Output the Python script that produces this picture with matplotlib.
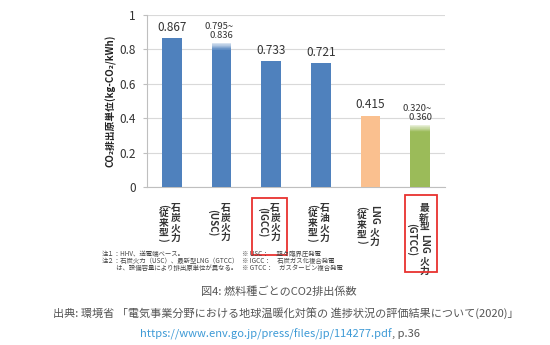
import numpy as np
import matplotlib
matplotlib.use("Agg")
import matplotlib.pyplot as plt
from matplotlib.patches import Rectangle
from matplotlib.textpath import TextPath
from matplotlib.font_manager import FontProperties

plt.rcParams['font.family'] = ['Noto Sans CJK JP', 'DejaVu Sans']

# data
cat_main = ["石炭火力", "石炭火力", "石炭火力", "石油火力", "LNG 火力", "最新型LNG 火力"]
cat_sub = ["(従来型)", "(USC)", "(IGCC)", "(従来型)", "(従来型)", "(GTCC)"]
values_low = [0.867, 0.795, 0.733, 0.721, 0.415, 0.320]
values_high = [0.867, 0.836, 0.733, 0.721, 0.415, 0.360]
value_labels = ["0.867", "0.795~\n0.836", "0.733", "0.721", "0.415", "0.320~\n0.360"]
bar_colors = ["#4f81bd", "#4f81bd", "#4f81bd", "#4f81bd", "#fac08f", "#9bbb59"]
yticks = [0, 0.2, 0.4, 0.6, 0.8, 1.0]
ytick_labels = ["0", "0.2", "0.4", "0.6", "0.8", "1"]

notes_left = ["注１：HHV、送電端ベース。",
              "注２：石炭火力（USC）、最新型LNG（GTCC）",
              "　　 は、設備容量により排出原単位が異なる。"]
notes_right = ["※ USC：　 超々臨界圧発電",
               "※ IGCC：　石炭ガス化複合発電",
               "※ GTCC：　ガスタービン複合発電"]

W, H, DPI = 550, 345, 100
fig = plt.figure(figsize=(W / DPI, H / DPI), dpi=DPI)
ax = fig.add_axes([147 / W, 1 - 187 / H, (445 - 147) / W, (187 - 15) / H])

x = np.arange(len(values_low))
bw = 0.4
ax.bar(x, values_low, width=bw, color=bar_colors, zorder=3)

# faded top for the ranged bars
for i in range(len(x)):
    lo, hi = values_low[i], values_high[i]
    if hi > lo:
        base = np.array(matplotlib.colors.to_rgb(bar_colors[i]))
        edges = np.linspace(lo, hi, 13)
        for k in range(12):
            f = 0.8 * (k + 0.5) / 12
            c = base * (1 - f) + f
            ax.bar(x[i], edges[k + 1] - edges[k], bottom=edges[k], width=bw,
                   color=c, zorder=3)

# value labels
for i in range(len(x)):
    if "\n" in value_labels[i]:
        ax.annotate(value_labels[i], (x[i], values_high[i]), xytext=(-2, 2),
                    textcoords="offset points", ha="center", va="bottom",
                    fontsize=6.8, color="#333333", multialignment="right",
                    linespacing=1.0)
    else:
        ax.annotate(value_labels[i], (x[i], values_high[i]), xytext=(0, 3),
                    textcoords="offset points", ha="center", va="bottom",
                    fontsize=8.5, color="#333333")

ax.set_xlim(-0.5, len(x) - 0.5)
ax.set_ylim(0, 1)
ax.set_yticks(yticks)
ax.set_yticklabels(ytick_labels, fontsize=8.5, color="#333333")
ax.set_xticks([])
ax.tick_params(axis="y", length=3, color="#bfbfbf", pad=5)
ax.grid(axis="y", color="#d9d9d9", linewidth=0.8, zorder=0)
for s in ["top", "right"]:
    ax.spines[s].set_visible(False)
ax.spines["left"].set_color("#bfbfbf")
ax.spines["bottom"].set_color("#bfbfbf")
ax.set_ylabel("CO₂排出原単位(kg-CO₂/kWh)", fontsize=7, fontweight="bold",
              color="#222222", labelpad=2)

# vertical (tategaki) category labels
fs = 7
fp = FontProperties(family="Noto Sans CJK JP", weight="bold", size=fs)


def tokens(s):
    out, buf = [], ""
    for ch in s:
        if ord(ch) < 128:
            buf += ch
        else:
            if buf:
                out.append((buf, True))
                buf = ""
            out.append((ch, False))
    if buf:
        out.append((buf, True))
    return out


def tok_len(t, rot):
    if not rot:
        return fs * 1.0
    w = TextPath((0, 0), t.strip(), size=fs, prop=fp).get_extents().width
    return w + 0.3 * fs * (1 + t.count(" "))


def col_len(s):
    return sum(tok_len(t, r) for t, r in tokens(s))


top = (203 - 187) * 0.72
for i in range(len(x)):
    cols = [(cat_main[i], 4 * 0.72), (cat_sub[i], -8.5 * 0.72)]
    longest = max(col_len(c) for c, _ in cols)
    mid = top + longest / 2
    for s, dx in cols:
        y = mid - col_len(s) / 2
        for t, r in tokens(s):
            L = tok_len(t, r)
            ax.annotate(t.strip(), (x[i], 0), xycoords=("data", "axes fraction"),
                        xytext=(dx, -(y + L / 2)), textcoords="offset points",
                        ha="center", va="center", rotation=-90 if r else 0,
                        fontsize=fs, fontweight="bold", color="#333333",
                        annotation_clip=False)
            y += L

# red boxes around highlighted labels
for (x0, y0, x1, y1) in [(252, 198, 287, 255), (405, 195, 437, 272)]:
    fig.patches.append(Rectangle((x0 / W, 1 - y1 / H), (x1 - x0) / W, (y1 - y0) / H,
                                 transform=fig.transFigure, fill=False,
                                 edgecolor="#e8322f", linewidth=1.3))

# notes
for k, line in enumerate(notes_left):
    fig.text(102 / W, 1 - (254 + 7 * k) / H, line, fontsize=4.6, color="#444444",
             va="center", ha="left")
for k, line in enumerate(notes_right):
    fig.text(242 / W, 1 - (254 + 7 * k) / H, line, fontsize=4.6, color="#444444",
             va="center", ha="left")

# caption
fig.text(278.5 / W, 1 - 292 / H, "図4: 燃料種ごとのCO2排出係数", fontsize=8,
         color="#555555", ha="center", va="center")
fig.text(286 / W, 1 - 313 / H,
         "出典: 環境省 「電気事業分野における地球温暖化対策の 進捗状況の評価結果について(2020)」",
         fontsize=8, color="#555555", ha="center", va="center")
fig.text(392 / W, 1 - 334 / H, "https://www.env.go.jp/press/files/jp/114277.pdf",
         fontsize=8, color="#3d9ad6", ha="right", va="center")
fig.text(392 / W, 1 - 334 / H, ", p.36", fontsize=8, color="#555555",
         ha="left", va="center")

fig.savefig("out.png", dpi=DPI)
